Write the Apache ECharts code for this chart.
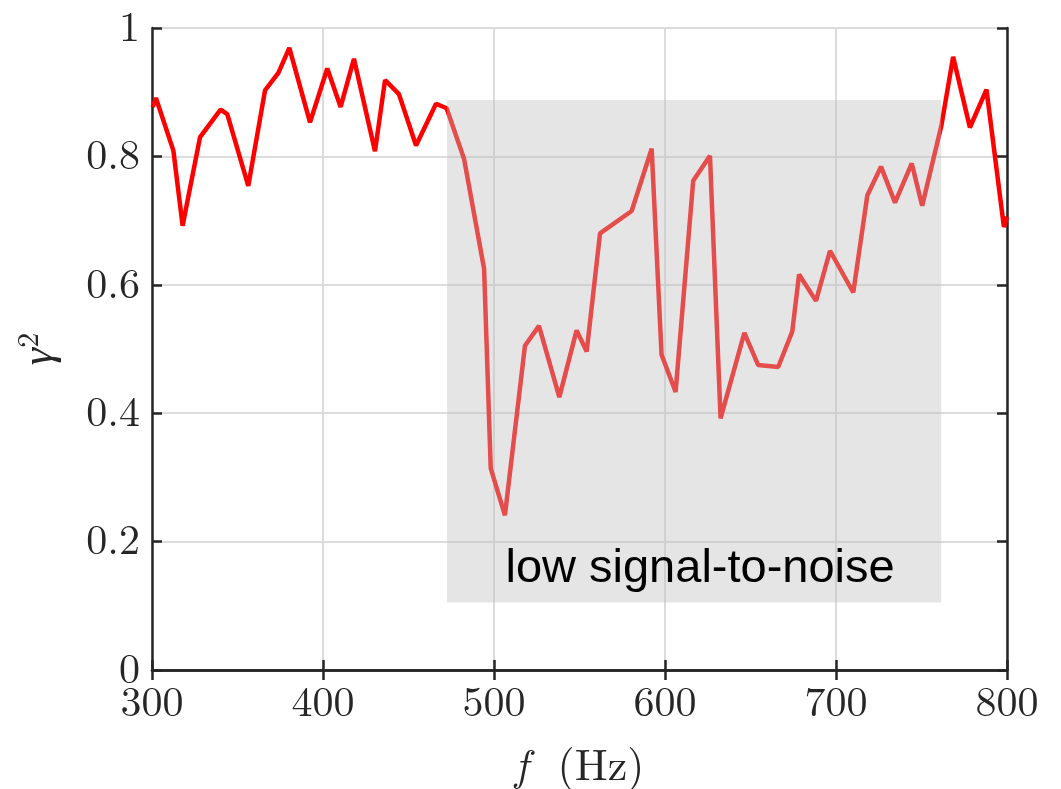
<!DOCTYPE html>
<html>
<head>
<meta charset="utf-8">
<script src="https://cdn.jsdelivr.net/npm/echarts@6/dist/echarts.min.js"></script>
<style>html,body{margin:0;padding:0;background:#fff;}#c{width:1061px;height:789px;}</style>
</head>
<body>
<div id="c"></div>
<script>
const freq = [300.4, 302.3, 312.5, 317.9, 328.1, 340.1, 344.0, 356.3, 366.1, 373.9, 380.3, 392.4, 402.5, 410.3, 418.1, 430.4, 436.3, 444.4, 454.4, 466.1, 472.3,
  482.5, 494.2, 498.1, 506.4, 518.1, 526.3, 538.2, 548.3, 554.2, 562.0, 580.5, 592.2, 598.0, 606.2, 616.5, 626.3, 632.5,
  646.4, 654.5, 666.2, 674.4, 678.4, 688.3, 696.5, 710.1, 718.3, 726.3, 734.5, 744.3, 750.4, 761.7, 768.5, 778.3, 788.0, 798.2, 800.0];
const gamma2 = [0.877, 0.891, 0.809, 0.692, 0.830, 0.873, 0.866, 0.754, 0.903, 0.930, 0.969, 0.853, 0.937, 0.877, 0.952, 0.808, 0.919, 0.897, 0.817, 0.882, 0.875,
  0.796, 0.625, 0.314, 0.241, 0.505, 0.536, 0.425, 0.529, 0.496, 0.680, 0.715, 0.812, 0.491, 0.433, 0.762, 0.801, 0.392,
  0.525, 0.475, 0.472, 0.527, 0.616, 0.575, 0.653, 0.588, 0.739, 0.784, 0.728, 0.789, 0.723, 0.849, 0.955, 0.845, 0.904, 0.690, 0.706];
const xTicks = [300, 400, 500, 600, 700, 800];
const yTicks = [0, 0.2, 0.4, 0.6, 0.8, 1];
const boxX = [472.5, 761.5];
const boxY = [0.105, 0.888];
const boxText = 'low signal-to-noise';

const serif = '"Latin Modern Roman", "CMU Serif", "Liberation Serif", "DejaVu Serif", serif';
const axisCol = '#262626';
const chart = echarts.init(document.getElementById('c'), null, {renderer: 'canvas'});
const commonAxisLine = {show: true, lineStyle: {color: axisCol, width: 2.5}};
const commonTick = {show: true, inside: true, length: 10, lineStyle: {color: axisCol, width: 2.5}};
chart.setOption({
  animation: false,
  backgroundColor: '#ffffff',
  grid: {left: 152, right: 54, top: 28, bottom: 119, containLabel: false, outerBoundsMode: 'none'},
  xAxis: [{
    type: 'value', min: xTicks[0], max: xTicks[xTicks.length - 1], interval: 100,
    axisLine: commonAxisLine, axisTick: commonTick,
    axisLabel: {fontFamily: serif, fontSize: 42, color: '#262626', margin: 12},
    splitLine: {show: true, lineStyle: {color: '#dcdcdc', width: 2}},
    name: '{i|f}  (Hz)', nameLocation: 'middle', nameGap: 75,
    nameTextStyle: {fontFamily: serif, fontSize: 44, color: '#262626',
      rich: {i: {fontFamily: serif, fontSize: 44, fontStyle: 'italic', color: '#262626'}}}
  }, {
    type: 'value', position: 'top', min: xTicks[0], max: xTicks[xTicks.length - 1], interval: 100,
    axisLine: commonAxisLine, axisTick: commonTick, axisLabel: {show: false}, splitLine: {show: false}
  }],
  yAxis: [{
    type: 'value', min: 0, max: 1, interval: 0.2,
    axisLine: commonAxisLine, axisTick: commonTick,
    axisLabel: {fontFamily: serif, fontSize: 42, color: '#262626', margin: 12},
    splitLine: {show: true, lineStyle: {color: '#dcdcdc', width: 2}},
    name: '{g|γ}{s|2}', nameLocation: 'middle', nameGap: 88, nameRotate: 90,
    nameTextStyle: {fontFamily: serif, fontSize: 44, color: '#262626',
      rich: {g: {fontFamily: serif, fontSize: 44, fontStyle: 'italic', color: '#262626', lineHeight: 50},
             s: {fontFamily: serif, fontSize: 30, color: '#262626', verticalAlign: 'top', lineHeight: 44}}}
  }, {
    type: 'value', position: 'right', min: 0, max: 1, interval: 0.2,
    axisLine: commonAxisLine, axisTick: commonTick, axisLabel: {show: false}, splitLine: {show: false}
  }],
  series: [{
    type: 'line', z: 2, symbol: 'none',
    data: freq.map((f, i) => [f, gamma2[i]]),
    lineStyle: {color: '#ff0000', width: 4.5},
    clip: true
  }, {
    type: 'line', z: 5, data: [], symbol: 'none',
    markArea: {
      silent: true, z: 10,
      itemStyle: {color: 'rgba(190,190,190,0.4)'},
      label: {show: true, position: 'insideBottom', distance: 10, offset: [6, 0],
        formatter: boxText, fontFamily: '"Liberation Sans", Arial, sans-serif', fontSize: 47, color: '#000'},
      data: [[{xAxis: boxX[0], yAxis: boxY[0]}, {xAxis: boxX[1], yAxis: boxY[1]}]]
    }
  }]
});
</script>
</body>
</html>
